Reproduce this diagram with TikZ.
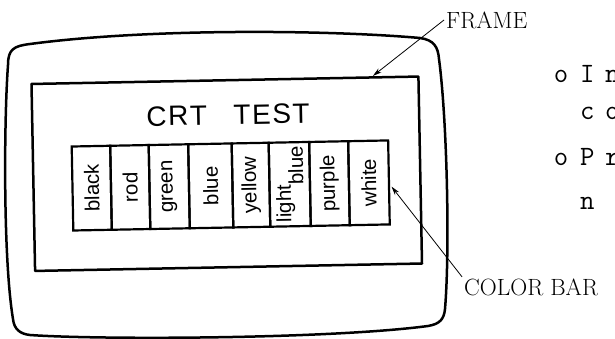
\documentclass[tikz,border=0pt]{standalone}
\usepackage{fontspec}
\newfontfamily\crtsans{Liberation Sans}
\newfontfamily\widemono[LetterSpace=38]{Latin Modern Mono}
\usetikzlibrary{arrows.meta,calc}
\begin{document}
\begin{tikzpicture}[x=1pt,y=1pt,
  heavy/.style={line width=2.5pt,line join=round,line cap=round},
  cellbox/.style={draw,line width=2.2pt,minimum height=84pt,inner sep=0pt},
  celltext/.style={rotate=90,font=\crtsans\fontsize{20.5}{22}\selectfont,inner sep=0pt},
  serlabel/.style={font=\fontsize{23.5}{26}\selectfont,inner sep=2pt},
  monotext/.style={font=\widemono\fontsize{28}{30}\selectfont,inner sep=0pt,anchor=base west},
  pointer/.style={line width=0.8pt,-{Stealth[length=9pt,width=5pt]}}]
\useasboundingbox (0,0) rectangle (615,339);
\fill[white] (0,0) rectangle (615,339);

% CRT housing
\draw[heavy] (8,274) .. controls (8,290) and (14,293) .. (30,295)
 .. controls (150,311) and (330,309) .. (420,301)
 .. controls (434,299) and (438,292) .. (439,280)
 .. controls (447,220) and (450,90) .. (445,30)
 .. controls (444,20) and (440,15) .. (428,13)
 .. controls (330,0) and (100,-1) .. (30,4)
 .. controls (20,5) and (14,10) .. (13,20)
 .. controls (3,80) and (4,220) .. cycle;

\begin{scope}[shift={(226.75,165.25)},rotate=1.1,transform shape]
  \node[draw,heavy,minimum width=387pt,minimum height=187pt,inner sep=0pt] (screen) at (0,0) {};
  \node[font=\crtsans\fontsize{28}{30}\selectfont,inner sep=0pt] (title) at (2.4,58.7) {C\kern1.5pt R\kern1.5pt T\hspace{0.95em}T\kern1.5pt E\kern1.5pt S\kern1.5pt T};
  \node[cellbox,minimum width=38.5pt] (c1) at (-135.25,-11.8) {};
  \node[cellbox,minimum width=38.5pt] (c2) at (-96.75,-11.8) {};
  \node[cellbox,minimum width=39.5pt] (c3) at (-57.75,-11.8) {};
  \node[cellbox,minimum width=43.5pt] (c4) at (-16.25,-11.8) {};
  \node[cellbox,minimum width=37pt] (c5) at (24,-11.8) {};
  \node[cellbox,minimum width=40.5pt] (c6) at (62.75,-11.8) {};
  \node[cellbox,minimum width=39pt] (c7) at (102.5,-11.8) {};
  \node[cellbox,minimum width=40pt] (c8) at (142,-11.8) {};
  \node[celltext] (t1) at (c1) {black};
  \node[celltext] (t2) at (c2) {rod};
  \node[celltext] (t3) at (c3) {green};
  \node[celltext] (t4) at (c4) {blue};
  \node[celltext] (t5) at (c5) {yellow};
  \node[celltext] (t6) at (c6) {light\raisebox{-0.62em}{blue}};
  \node[celltext] (t7) at (c7) {purple};
  \node[celltext] (t8) at (c8) {white};
  \coordinate (ftip) at (148,95);
  \coordinate (btip) at (164.5,-16);
\end{scope}

\node[serlabel,anchor=west] (frame) at (444,319) {FRAME};
\node[serlabel,anchor=west] (cbar) at (462,51.5) {COLOR BAR};
\draw[pointer] (frame.west) -- (ftip);
\draw[pointer] (cbar.north west) -- (btip);

\node[monotext,anchor=base] (b1) at (561,256) {o};
\node[monotext] (l1) at (580,256) {In};
\node[monotext] (l2) at (580,219) {co};
\node[monotext,anchor=base] (b3) at (561,173) {o};
\node[monotext] (l3) at (580,173) {Pr};
\node[monotext] (l4) at (580,129) {n};
\end{tikzpicture}
\end{document}
